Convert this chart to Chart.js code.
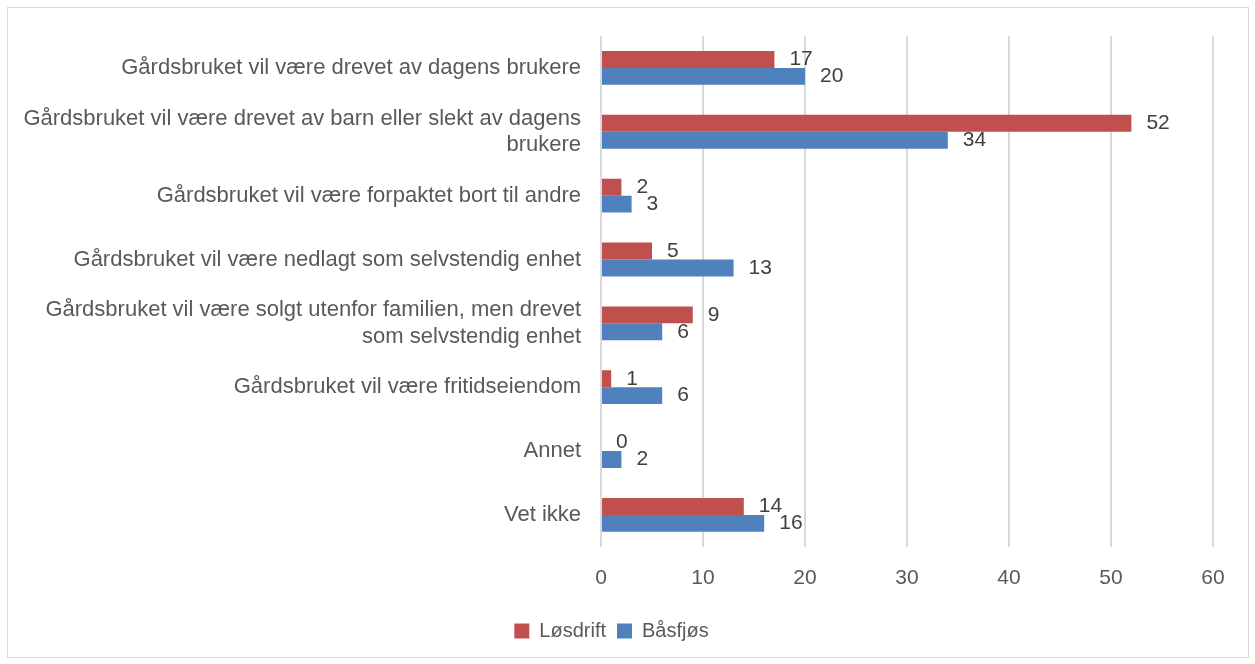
<!DOCTYPE html><html lang="no"><head><meta charset="utf-8">
<title>Gårdsbruket</title>
<script src="https://cdn.jsdelivr.net/npm/chart.js@4.4.0/dist/chart.umd.min.js"></script>
<style>
  body { margin: 0; background: #fff; }
  .wrap { position: relative; width: 1255px; height: 664px; }
  .frame { position: absolute; left: 7px; top: 7px; width: 1240px; height: 649px; border: 1px solid #d9d9d9; pointer-events: none; }
</style>
</head>
<body>
<div class="wrap">
  <canvas id="chart" width="1255" height="664"></canvas>
  <div class="frame"></div>
</div>
<script>
  // kategorier og verdier
  const categories = [
    'Gårdsbruket vil være drevet av dagens brukere',
    ['Gårdsbruket vil være drevet av barn eller slekt av dagens', 'brukere'],
    'Gårdsbruket vil være forpaktet bort til andre',
    'Gårdsbruket vil være nedlagt som selvstendig enhet',
    ['Gårdsbruket vil være solgt utenfor familien, men drevet', 'som selvstendig enhet'],
    'Gårdsbruket vil være fritidseiendom',
    'Annet',
    'Vet ikke'
  ];
  const losdrift = [17, 52, 2, 5, 9, 1, 0, 14];
  const basfjos = [20, 34, 3, 13, 6, 6, 2, 16];
  const xTicks = [0, 10, 20, 30, 40, 50, 60];

  const textColor = '#595959';
  const fontFamily = "'Liberation Sans', Arial, sans-serif";

  // tall ved enden av stolpene
  const valueLabels = {
    id: 'valueLabels',
    afterDatasetsDraw(chart) {
      const ctx = chart.ctx;
      ctx.save();
      ctx.font = '21px ' + fontFamily;
      ctx.fillStyle = '#404040';
      ctx.textAlign = 'left';
      ctx.textBaseline = 'middle';
      chart.data.datasets.forEach((ds, i) => {
        const meta = chart.getDatasetMeta(i);
        meta.data.forEach((bar, j) => {
          ctx.fillText(String(ds.data[j]), bar.x + 15, bar.y);
        });
      });
      ctx.restore();
    }
  };

  new Chart(document.getElementById('chart'), {
    type: 'bar',
    data: {
      labels: categories,
      datasets: [
        { label: 'Løsdrift', data: losdrift, backgroundColor: '#c0504d', categoryPercentage: 0.53, barPercentage: 1 },
        { label: 'Båsfjøs', data: basfjos, backgroundColor: '#4f81bd', categoryPercentage: 0.53, barPercentage: 1 }
      ]
    },
    options: {
      indexAxis: 'y',
      responsive: false,
      animation: false,
      layout: { padding: { left: 10, right: 42, top: 36, bottom: 13 } },
      plugins: {
        legend: {
          position: 'bottom',
          labels: { boxWidth: 15, boxHeight: 15, color: textColor, font: { size: 20, family: fontFamily }, padding: 11 }
        },
        tooltip: { enabled: false }
      },
      scales: {
        x: {
          min: 0, max: 60,
          afterBuildTicks: s => { s.ticks = xTicks.map(v => ({ value: v })); },
          grid: { color: '#d9d9d9', lineWidth: 2, drawTicks: false },
          border: { display: false },
          ticks: { color: textColor, font: { size: 21, family: fontFamily }, padding: 19 }
        },
        y: {
          afterFit: s => { s.width = 591; },
          grid: { display: false, drawTicks: false },
          border: { display: false },
          ticks: { color: textColor, font: { size: 22, family: fontFamily }, padding: 20 }
        }
      }
    },
    plugins: [valueLabels]
  });
</script>
</body>
</html>
